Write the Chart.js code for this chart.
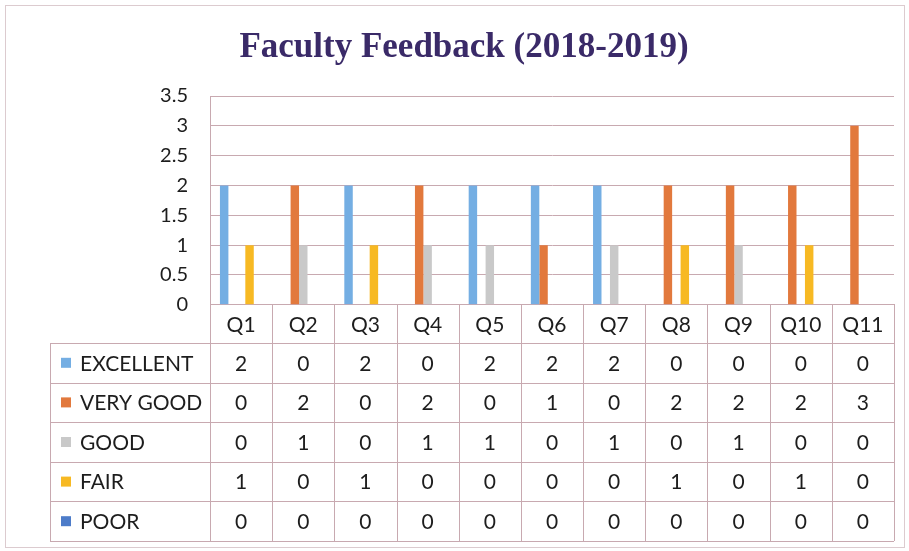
<!DOCTYPE html>
<html>
<head>
<meta charset="utf-8">
<script src="https://cdn.jsdelivr.net/npm/chart.js@4.4.0/dist/chart.umd.min.js"></script>
<style>
  html, body { margin: 0; padding: 0; background: #fff; }
  #wrap { width: 909px; height: 551px; position: relative; }
</style>
</head>
<body>
<div id="wrap"><canvas id="myChart" width="909" height="551"></canvas></div>
<script>
const categories = ['Q1', 'Q2', 'Q3', 'Q4', 'Q5', 'Q6', 'Q7', 'Q8', 'Q9', 'Q10', 'Q11'];
const seriesNames = ['EXCELLENT', 'VERY GOOD', 'GOOD', 'FAIR', 'POOR'];
const excellent = [2, 0, 2, 0, 2, 2, 2, 0, 0, 0, 0];
const veryGood = [0, 2, 0, 2, 0, 1, 0, 2, 2, 2, 3];
const good = [0, 1, 0, 1, 1, 0, 1, 0, 1, 0, 0];
const fair = [1, 0, 1, 0, 0, 0, 0, 1, 0, 1, 0];
const poor = [0, 0, 0, 0, 0, 0, 0, 0, 0, 0, 0];
const yTicks = [0, 0.5, 1, 1.5, 2, 2.5, 3, 3.5];

const colors = ['#74aee3', '#e2793d', '#c9c9c9', '#f7b923', '#4d7cc9'];
const gridColor = '#c8a9b0';
const textFont = 'Lato, "Open Sans", sans-serif';

// data table drawn under the plot, one row per series
const dataTable = {
    id: 'dataTable',
    afterDraw(chart) {
        const c = chart.ctx;
        const area = chart.chartArea;
        const x = chart.scales.x;
        const n = categories.length;
        const colW = (area.right - area.left) / n;
        const headBottom = 343;
        const rowH = 39.6;
        const tableLeft = 50;
        const rows = chart.data.datasets;
        const bottom = headBottom + rowH * rows.length;

        c.save();
        c.strokeStyle = gridColor;
        c.lineWidth = 1;
        c.beginPath();
        // vertical lines
        for (let i = 0; i <= n; i++) {
            const px = Math.round(area.left + i * colW) + 0.5;
            c.moveTo(px, area.bottom);
            c.lineTo(px, bottom);
        }
        c.moveTo(tableLeft + 0.5, headBottom);
        c.lineTo(tableLeft + 0.5, bottom);
        // horizontal lines
        for (let r = 0; r <= rows.length; r++) {
            const py = Math.round(headBottom + r * rowH) + 0.5;
            c.moveTo(tableLeft, py);
            c.lineTo(area.right, py);
        }
        c.stroke();

        c.font = '21px ' + textFont;
        c.textBaseline = 'middle';
        rows.forEach((ds, r) => {
            const cy = headBottom + r * rowH + rowH / 2;
            c.fillStyle = ds.backgroundColor;
            c.fillRect(tableLeft + 11, cy - 5, 10, 10);
            c.fillStyle = '#1d1d1d';
            c.textAlign = 'left';
            c.fillText(ds.label, tableLeft + 30, cy + 1);
            c.textAlign = 'center';
            ds.data.forEach((v, i) => {
                c.fillText(String(v), x.getPixelForValue(i), cy + 1);
            });
        });

        // outer frame of the chart
        c.strokeStyle = '#dccbcf';
        c.strokeRect(5.5, 5.5, 899, 542);
        c.restore();
    }
};

const ctx = document.getElementById('myChart').getContext('2d');
const myChart = new Chart(ctx, {
    type: 'bar',
    data: {
        labels: categories,
        datasets: [excellent, veryGood, good, fair, poor].map((d, i) => ({
            label: seriesNames[i],
            data: d,
            backgroundColor: colors[i],
            borderWidth: 0,
            categoryPercentage: 0.68,
            barPercentage: 1
        }))
    },
    options: {
        responsive: false,
        animation: false,
        layout: {
            padding: { left: 34, right: 15, top: 0, bottom: 205 }
        },
        plugins: {
            legend: { display: false },
            tooltip: { enabled: false },
            title: {
                display: true,
                text: 'Faculty Feedback (2018-2019)',
                color: '#3a2a68',
                font: { family: '"Liberation Serif", "Times New Roman", serif', size: 35, weight: 'bold' },
                padding: { top: 27, bottom: 27 }
            }
        },
        scales: {
            x: {
                grid: { display: false, drawTicks: false },
                border: { color: gridColor },
                ticks: {
                    color: '#1d1d1d',
                    font: { family: textFont, size: 21 },
                    padding: 8,
                    maxRotation: 0
                }
            },
            y: {
                min: 0,
                max: 3.5,
                afterBuildTicks: (scale) => { scale.ticks = yTicks.map(v => ({ value: v })); },
                afterFit: (scale) => { scale.width = 176; },
                grid: { color: gridColor, drawTicks: false },
                border: { color: gridColor },
                ticks: {
                    color: '#1d1d1d',
                    font: { family: textFont, size: 20 },
                    padding: 22,
                    callback: (v) => String(v)
                }
            }
        }
    },
    plugins: [dataTable]
});
</script>
</body>
</html>
